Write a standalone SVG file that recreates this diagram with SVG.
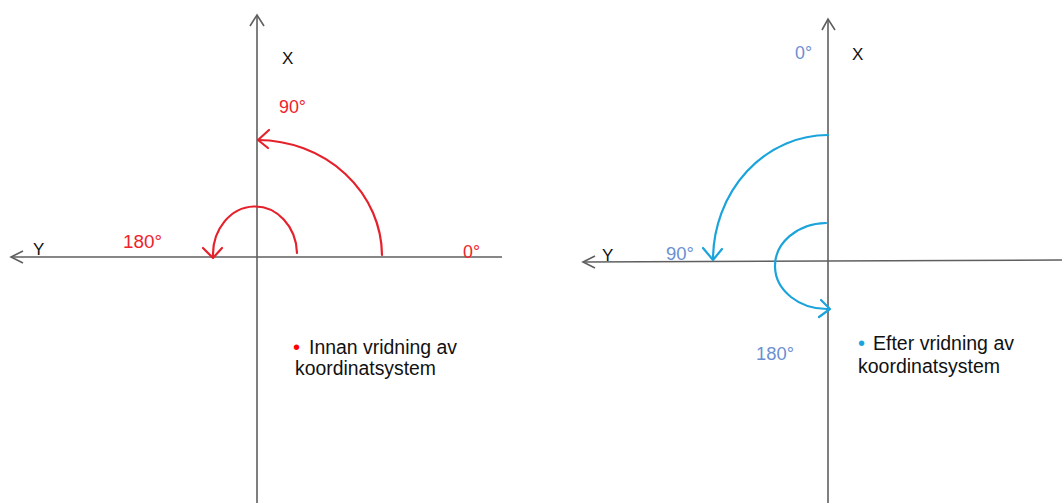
<svg xmlns="http://www.w3.org/2000/svg" width="1062" height="503" viewBox="0 0 1062 503">
<style>
.axis{stroke:#5f5f5f;stroke-width:1.6;fill:none}
.red{stroke:#e5222c;stroke-width:2.2;fill:none;stroke-linecap:round;stroke-linejoin:round}
.blue{stroke:#1ba3dc;stroke-width:2.2;fill:none;stroke-linecap:round;stroke-linejoin:round}
text{font-family:"Liberation Sans",Arial,sans-serif}
.lab{font-size:18px}
.ax{font-size:17px;fill:#111}
.rl{fill:#f0222a}
.bl{fill:#6c8fd2}
.body{font-size:20px;fill:#111}
</style>
<rect width="1062" height="503" fill="#ffffff"/>
<g id="left-axes">
<line class="axis" x1="257" y1="15" x2="257" y2="503"/>
<polyline class="axis" points="250,26 257,15 264,26"/>
<line class="axis" x1="11" y1="257" x2="502" y2="257"/>
<polyline class="axis" points="23,251 11,257 23,263"/>
<text class="ax" x="282" y="64">X</text>
<text class="ax" x="33" y="255">Y</text>
</g>
<g id="left-arcs">
<path class="red" d="M382,255 A125,116 0 0 0 258,140"/>
<polyline class="red" points="269,130 258,140 268,148"/>
<path class="red" d="M297,253 A42,48 0 0 0 213,256"/>
<polyline class="red" points="203,248 213,258 222,248"/>
<text class="lab rl" x="279" y="113" textLength="27" lengthAdjust="spacingAndGlyphs">90°</text>
<text class="lab rl" x="123" y="248" textLength="39" lengthAdjust="spacingAndGlyphs">180°</text>
<text class="lab rl" x="463" y="258" textLength="17" lengthAdjust="spacingAndGlyphs">0°</text>
</g>
<g id="left-note">
<text class="body" x="293" y="354"><tspan fill="#ff0000">•</tspan></text>
<text class="body" x="309" y="354" textLength="148" lengthAdjust="spacingAndGlyphs">Innan vridning av</text>
<text class="body" x="295" y="375" textLength="141" lengthAdjust="spacingAndGlyphs">koordinatsystem</text>
</g>
<g id="right-axes">
<line class="axis" x1="828" y1="19" x2="828" y2="503"/>
<polyline class="axis" points="822,30 828,19 835,30"/>
<line class="axis" x1="583" y1="262" x2="1062" y2="260"/>
<polyline class="axis" points="595,256 583,262 595,268"/>
<text class="ax" x="852" y="60">X</text>
<text class="ax" x="602" y="261">Y</text>
</g>
<g id="right-arcs">
<path class="blue" d="M828,135 A115,125 0 0 0 713,259"/>
<polyline class="blue" points="703,248 713,260 722,249"/>
<path class="blue" d="M826,223 A52,43 0 0 0 828,309"/>
<polyline class="blue" points="821,300 830,309 819,317"/>
<text class="lab bl" x="795" y="59" textLength="17" lengthAdjust="spacingAndGlyphs">0°</text>
<text class="lab bl" x="666" y="260" textLength="28" lengthAdjust="spacingAndGlyphs">90°</text>
<text class="lab bl" x="756" y="360" textLength="38" lengthAdjust="spacingAndGlyphs">180°</text>
</g>
<g id="right-note">
<text class="body" x="858" y="350"><tspan fill="#1ba3dc">•</tspan></text>
<text class="body" x="873" y="350" textLength="141" lengthAdjust="spacingAndGlyphs">Efter vridning av</text>
<text class="body" x="858" y="373" textLength="142" lengthAdjust="spacingAndGlyphs">koordinatsystem</text>
</g>
</svg>
